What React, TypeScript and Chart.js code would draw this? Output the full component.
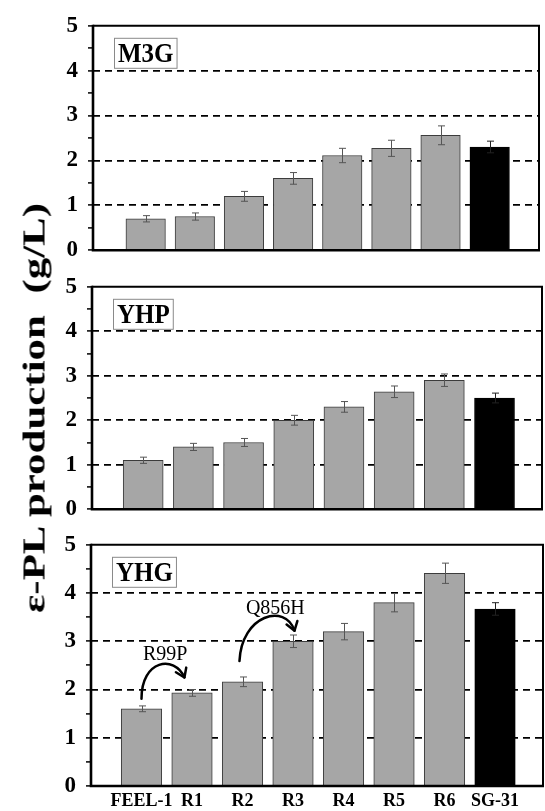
import React, { useEffect, useLayoutEffect, useRef } from "react";
import { Chart, registerables } from "chart.js";
Chart.register(...registerables);

// ---------- data ----------
const categories = ["FEEL-1", "R1", "R2", "R3", "R4", "R5", "R6", "SG-31"];
const m3gValues = [0.7, 0.75, 1.2, 1.6, 2.11, 2.27, 2.56, 2.3];
const m3gErrors = [0.07, 0.08, 0.11, 0.13, 0.16, 0.18, 0.21, 0.13];
const yhpValues = [1.1, 1.4, 1.5, 2.0, 2.3, 2.64, 2.9, 2.5];
const yhpErrors = [0.07, 0.08, 0.09, 0.11, 0.12, 0.13, 0.14, 0.11];
const yhgValues = [1.6, 1.93, 2.16, 3.0, 3.2, 3.8, 4.41, 3.67];
const yhgErrors = [0.06, 0.07, 0.1, 0.13, 0.17, 0.19, 0.21, 0.13];
const panelNames = ["M3G", "YHP", "YHG"];
const yAxisTitle = "ε-PL production  (g/L)";
// mutation annotations (panel YHG), in data units: [category index, g/L]
const mutationLabels = ["R99P", "Q856H"];
const mutationLabelAt = [
  [0.47, 2.72],
  [2.65, 3.67],
];
const mutationArrows = [
  [[0, 1.81], [0, 2.62], [0.65, 2.72], [0.85, 2.25]],
  [[1.94, 2.59], [1.98, 3.55], [2.85, 3.8], [3.03, 3.22]],
];

const SERIF = '"Liberation Serif", "Times New Roman", serif';
const GRAY = "#a6a6a6";

type PanelCfg = {
  name: string;
  values: number[];
  errors: number[];
  plot: { top: number; bottom: number; left: number; right: number };
  xMin: number;
  xMax: number;
  barThickness: number;
  showX: boolean;
  annotate: boolean;
};

const panels: PanelCfg[] = [
  { name: panelNames[0], values: m3gValues, errors: m3gErrors, plot: { top: 20, bottom: 258, left: 93, right: 540 }, xMin: -1.072, xMax: 8.024, barThickness: 39.5, showX: false, annotate: false },
  { name: panelNames[1], values: yhpValues, errors: yhpErrors, plot: { top: 281, bottom: 517, left: 92, right: 543 }, xMin: -1.02, xMax: 7.966, barThickness: 40, showX: false, annotate: false },
  { name: panelNames[2], values: yhgValues, errors: yhgErrors, plot: { top: 539, bottom: 786, left: 91, right: 544 }, xMin: -1.0, xMax: 7.97, barThickness: 40.5, showX: true, annotate: true },
];

const PAGE_W = 545;
const PAGE_H = 811;
const PAD_TOP = 18;
const PAD_BOTTOM = 16;

function makeErrorPlugin(values: number[], errors: number[]) {
  return {
    id: "errorBars",
    afterDatasetsDraw(chart: any) {
      const { ctx } = chart;
      const xs = chart.scales.x;
      const ys = chart.scales.y;
      ctx.save();
      ctx.lineWidth = 1;
      values.forEach((v, i) => {
        const x = Math.round(xs.getPixelForValue(i)) + 0.5;
        const yt = ys.getPixelForValue(v + errors[i]);
        const yb = ys.getPixelForValue(v - errors[i]);
        ctx.strokeStyle = i === values.length - 1 ? "#222" : "#555";
        ctx.beginPath();
        ctx.moveTo(x, yt);
        ctx.lineTo(x, yb);
        ctx.moveTo(x - 3.5, yt);
        ctx.lineTo(x + 3.5, yt);
        ctx.moveTo(x - 3.5, yb);
        ctx.lineTo(x + 3.5, yb);
        ctx.stroke();
      });
      ctx.restore();
    },
  };
}

const framePlugin = {
  id: "frame",
  afterDatasetsDraw(chart: any) {
    const { ctx } = chart;
    const { left, right, top, bottom } = chart.chartArea;
    ctx.save();
    ctx.strokeStyle = "#000";
    ctx.lineWidth = 2;
    ctx.beginPath();
    ctx.moveTo(left, top);
    ctx.lineTo(right - 1, top);
    ctx.lineTo(right - 1, bottom);
    ctx.stroke();
    ctx.lineWidth = 2.6;
    ctx.beginPath();
    ctx.moveTo(left, top - 1);
    ctx.lineTo(left, bottom);
    ctx.lineTo(right, bottom);
    ctx.stroke();
    ctx.restore();
  },
};

function makeNamePlugin(name: string) {
  return {
    id: "panelName",
    afterDraw(chart: any) {
      const { ctx } = chart;
      const { left, top } = chart.chartArea;
      ctx.save();
      ctx.font = `bold 25px ${SERIF}`;
      const w = ctx.measureText(name).width + 7;
      const bx = left + 21;
      const by = top + 12;
      const bh = 30;
      ctx.fillStyle = "#fff";
      ctx.fillRect(bx, by, w, bh);
      ctx.strokeStyle = "#8a8a8a";
      ctx.lineWidth = 1;
      ctx.strokeRect(bx + 0.5, by + 0.5, w, bh);
      ctx.fillStyle = "#000";
      ctx.textAlign = "center";
      ctx.textBaseline = "alphabetic";
      ctx.translate(bx + w / 2 + 0.5, by + bh - 6);
      ctx.scale(1, 1.1);
      ctx.fillText(name, 0, 0);
      ctx.restore();
    },
  };
}

const mutationPlugin = {
  id: "mutations",
  afterDatasetsDraw(chart: any) {
    const { ctx } = chart;
    const xs = chart.scales.x;
    const ys = chart.scales.y;
    ctx.save();
    ctx.strokeStyle = "#000";
    ctx.lineWidth = 2.5;
    ctx.lineCap = "round";
    ctx.lineJoin = "round";
    mutationArrows.forEach((pts) => {
      const p = pts.map(([a, b]) => [xs.getPixelForValue(a), ys.getPixelForValue(b)]);
      ctx.beginPath();
      ctx.moveTo(p[0][0], p[0][1]);
      ctx.bezierCurveTo(p[1][0], p[1][1], p[2][0], p[2][1], p[3][0], p[3][1]);
      ctx.stroke();
      const ang = Math.atan2(p[3][1] - p[2][1], p[3][0] - p[2][0]);
      const L = 10;
      const spread = 0.6;
      ctx.beginPath();
      ctx.moveTo(p[3][0] - L * Math.cos(ang - spread), p[3][1] - L * Math.sin(ang - spread));
      ctx.lineTo(p[3][0], p[3][1]);
      ctx.lineTo(p[3][0] - L * Math.cos(ang + spread), p[3][1] - L * Math.sin(ang + spread));
      ctx.stroke();
    });
    ctx.fillStyle = "#000";
    ctx.font = `20px ${SERIF}`;
    ctx.textAlign = "center";
    ctx.textBaseline = "middle";
    mutationLabels.forEach((t, i) => {
      const [a, b] = mutationLabelAt[i];
      ctx.fillText(t, xs.getPixelForValue(a), ys.getPixelForValue(b));
    });
    ctx.restore();
  },
};

function Panel({ cfg }: { cfg: PanelCfg }) {
  const ref = useRef<HTMLCanvasElement>(null);
  const canvasTop = cfg.plot.top - PAD_TOP;
  const canvasBottom = cfg.showX ? PAGE_H : cfg.plot.bottom + PAD_BOTTOM;
  const canvasH = canvasBottom - canvasTop;

  useEffect(() => {
    if (!ref.current) return;
    const last = cfg.values.length - 1;
    const plugins: any[] = [makeErrorPlugin(cfg.values, cfg.errors), framePlugin, makeNamePlugin(cfg.name)];
    if (cfg.annotate) plugins.push(mutationPlugin);
    const chart = new Chart(ref.current, {
      type: "bar",
      data: {
        datasets: [
          {
            data: cfg.values.map((v, i) => ({ x: i, y: v })),
            backgroundColor: cfg.values.map((_, i) => (i === last ? "#000" : GRAY)),
            borderColor: cfg.values.map((_, i) => (i === last ? "#000" : "#3c3c3c")),
            borderWidth: 1,
            barThickness: cfg.barThickness,
          } as any,
        ],
      },
      options: {
        responsive: false,
        animation: false,
        devicePixelRatio: 1,
        layout: {
          padding: {
            top: PAD_TOP,
            bottom: cfg.showX ? 0 : PAD_BOTTOM,
            left: 0,
            right: PAGE_W - cfg.plot.right,
          },
        },
        plugins: { legend: { display: false }, tooltip: { enabled: false } },
        scales: {
          x: {
            type: "linear",
            min: cfg.xMin,
            max: cfg.xMax,
            offset: false,
            display: cfg.showX,
            afterBuildTicks: (s: any) => {
              s.ticks = categories.map((_, i) => ({ value: i }));
            },
            afterFit: (s: any) => {
              s.height = cfg.showX ? PAGE_H - cfg.plot.bottom : 0;
            },
            grid: { display: false, drawTicks: false, offset: false },
            border: { display: false },
            ticks: {
              autoSkip: false,
              maxRotation: 0,
              minRotation: 0,
              padding: 5,
              color: "#000",
              font: { family: SERIF, size: 18, weight: "bold" },
              callback: (v: any) => categories[v as number] ?? "",
            },
          },
          y: {
            min: 0,
            max: 5,
            afterFit: (s: any) => {
              s.width = cfg.plot.left;
            },
            grid: {
              color: (c: any) => {
                const v = c.tick ? c.tick.value : -1;
                return Number.isInteger(v) && v > 0 && v < 5 ? "#000" : "rgba(0,0,0,0)";
              },
              lineWidth: 1.8,
              tickColor: "#000",
              tickLength: 5,
              tickWidth: 1.5,
              tickBorderDash: [],
            } as any,
            border: { display: false, dash: [7, 5] },
            ticks: {
              stepSize: 0.5,
              autoSkip: false,
              padding: 10,
              color: "#000",
              font: { family: SERIF, size: 23, weight: "bold" },
              callback: (v: any) => (Number.isInteger(v) ? String(v) : ""),
            },
          },
        },
      } as any,
      plugins,
    });
    return () => chart.destroy();
  }, []);

  return (
    <canvas
      ref={ref}
      width={PAGE_W}
      height={canvasH}
      style={{ position: "absolute", left: 0, top: canvasTop, width: PAGE_W, height: canvasH }}
    />
  );
}

export default function App() {
  const titleRef = useRef<HTMLDivElement>(null);
  useLayoutEffect(() => {
    const el = titleRef.current;
    if (!el) return;
    const k = 410 / el.offsetWidth;
    el.style.transform = `translate(-50%, -50%) rotate(-90deg) scaleX(${k})`;
  }, []);
  return (
    <div style={{ position: "absolute", left: 0, top: 0, width: PAGE_W, height: PAGE_H, background: "#fff", overflow: "hidden" }}>
      {panels.map((p) => (
        <Panel key={p.name} cfg={p} />
      ))}
      <div
        ref={titleRef}
        style={{
          position: "absolute",
          left: 34,
          top: 408,
          whiteSpace: "pre",
          font: `bold 31px ${SERIF}`,
          lineHeight: "1",
          color: "#000",
          transform: "translate(-50%, -50%) rotate(-90deg)",
        }}
      >
        {yAxisTitle}
      </div>
    </div>
  );
}
